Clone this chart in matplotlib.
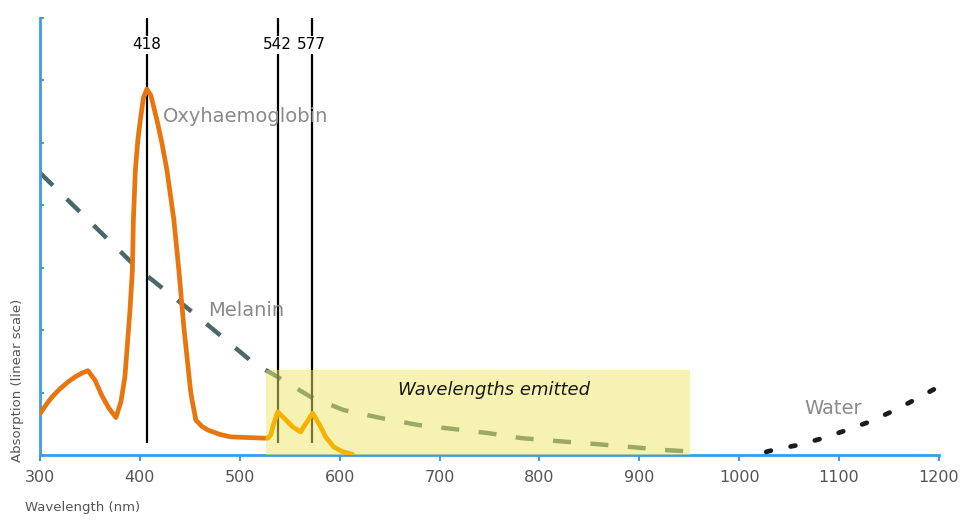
import matplotlib
matplotlib.use("Agg")
import matplotlib.pyplot as plt
from matplotlib.patches import Rectangle

plt.rcParams["font.family"] = ["DejaVu Sans"]
plt.rcParams["lines.scale_dashes"] = False

# 数据
hb_nm = [300, 305, 312, 320, 328, 336, 343, 348, 355, 362, 369, 376, 381, 385, 390, 392.5, 393.5, 395.5, 398, 400.5,
         403.5, 407, 411, 417, 422, 427, 434, 439, 444, 451, 456, 462, 468, 480, 491, 524, 528]
hb_abs = [0.66, 0.78, 0.93, 1.06, 1.17, 1.26, 1.32, 1.35, 1.2, 0.95, 0.75, 0.6, 0.85, 1.25, 2.3, 2.96, 3.77, 4.57, 5.05,
          5.37, 5.72, 5.86, 5.76, 5.37, 5.0, 4.57, 3.77, 2.96, 2.05, 0.99, 0.56, 0.46, 0.4, 0.33, 0.29, 0.27, 0.27]

hb2_nm = [528, 531, 534, 538, 545, 553, 561, 566, 573, 580, 586, 594, 602, 608, 613]
hb2_abs = [0.27, 0.32, 0.5, 0.69, 0.58, 0.45, 0.37, 0.5, 0.67, 0.48, 0.29, 0.13, 0.06, 0.03, 0.01]

mel_nm = [300, 397, 454, 514, 538, 571, 604, 642, 679, 712, 749, 782, 820, 853, 890, 925, 958]
mel_abs = [4.52, 3.0, 2.27, 1.47, 1.25, 0.93, 0.72, 0.59, 0.48, 0.42, 0.35, 0.27, 0.22, 0.18, 0.13, 0.08, 0.05]

water_nm = [1027, 1034, 1059, 1084, 1106, 1130, 1152, 1174, 1197]
water_abs = [0.05, 0.08, 0.16, 0.27, 0.39, 0.53, 0.69, 0.87, 1.07]

peak_pos = [407, 538, 572]
peak_labels = ["418", "542", "577"]

emit_range = (526, 951)
emit_top = 1.36

xticks = [300, 400, 500, 600, 700, 800, 900, 1000, 1100, 1200]

fig = plt.figure(figsize=(9.69, 5.28), dpi=100)
ax = fig.add_axes([40 / 969, 73 / 528, 899 / 969, 437 / 528])

blue = "#3f9ddf"
grey_txt = "#8a8a8a"

# 黑色竖线
for p, lab in zip(peak_pos, peak_labels):
    ax.plot([p, p], [0.19, 7.0], color="black", lw=1.6, zorder=3, solid_capstyle="butt")
    ax.text(p, 6.57, lab, ha="center", va="center", fontsize=11, color="black", zorder=6,
            bbox=dict(facecolor="white", edgecolor="none", pad=1.0))

ax.plot(mel_nm, mel_abs, color="#4a6869", lw=3.2, dashes=(13, 14), zorder=2)
ax.plot(hb_nm, hb_abs, color="#e8760e", lw=3.4, solid_joinstyle="round", solid_capstyle="round", zorder=4)

ax.add_patch(Rectangle((emit_range[0], 0), emit_range[1] - emit_range[0], emit_top,
                       facecolor="#efe866", alpha=0.5, edgecolor="none", zorder=5))
ax.plot(hb2_nm, hb2_abs, color="#f6b200", lw=3.4, solid_joinstyle="round", solid_capstyle="round", zorder=5.5)
ax.plot(water_nm, water_abs, color="#1c1c1c", lw=3.4, dashes=(3.5, 14.5), dash_capstyle="round", zorder=4)

ax.text(755, 1.04, "Wavelengths emitted", ha="center", va="center", fontsize=13,
        style="italic", color="#1a1a1a", zorder=6)

ax.text(423, 5.42, "Oxyhaemoglobin", ha="left", va="center", fontsize=14, color=grey_txt, zorder=6)
ax.text(468, 2.32, "Melanin", ha="left", va="center", fontsize=14, color=grey_txt, zorder=6)
ax.text(1094, 0.75, "Water", ha="center", va="center", fontsize=14, color=grey_txt, zorder=6)

ax.set_xlim(300, 1200)
ax.set_ylim(0, 7)
ax.set_xticks(xticks)
ax.set_yticks(range(0, 8))
ax.set_yticklabels([])
ax.tick_params(axis="x", direction="out", length=4, width=1.5, color=blue,
               labelsize=11.5, labelcolor="#555555", pad=7)
ax.tick_params(axis="y", direction="in", length=3, width=1.5, color=blue)
for s in ["top", "right"]:
    ax.spines[s].set_visible(False)
for s in ["left", "bottom"]:
    ax.spines[s].set_color(blue)
    ax.spines[s].set_linewidth(2)

fig.text(25 / 969, 1 - 508 / 528, "Wavelength (nm)", ha="left", va="center", fontsize=9.5, color="#555555")
fig.text(18 / 969, 1 - 380 / 528, "Absorption (linear scale)", ha="center", va="center",
         rotation=90, fontsize=9.5, color="#555555")

fig.savefig("out.png", dpi=100)
